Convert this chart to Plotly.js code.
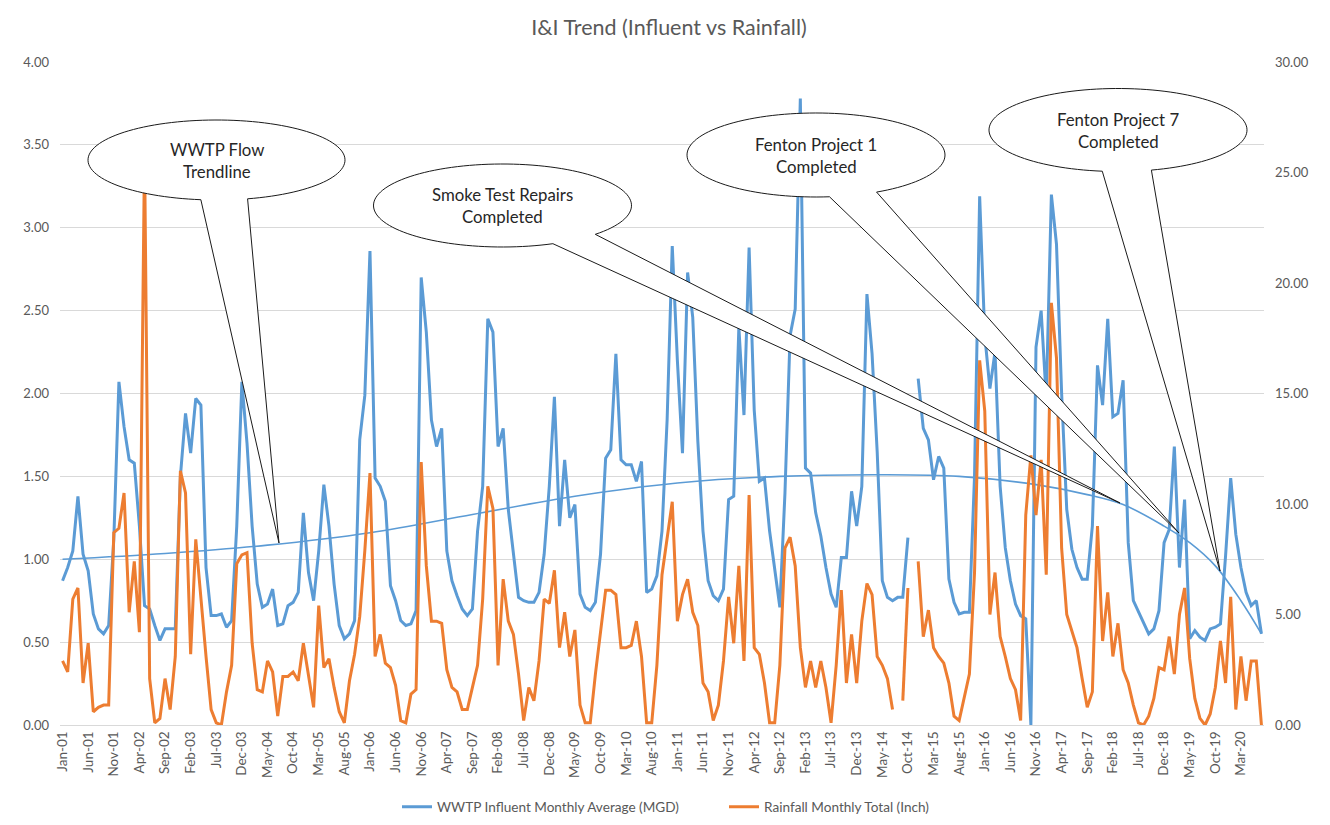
<!DOCTYPE html>
<html>
<head>
<meta charset="utf-8">
<script src="https://cdn.plot.ly/plotly-3.0.1.min.js"></script>
<style>
html,body{margin:0;padding:0;background:#fff;}
#chart{width:1330px;height:825px;}
</style>
</head>
<body>
<div id="chart"></div>
<script>
// ---------- DATA ----------
const monthNames = ["Jan","Feb","Mar","Apr","May","Jun","Jul","Aug","Sep","Oct","Nov","Dec"];
const firstYear = 1;      // 2001
const monthCount = 235;   // Jan-01 .. Jul-20
const months = [];
for (let i = 0; i < monthCount; i++) {
  const yy = firstYear + Math.floor(i / 12);
  months.push(monthNames[i % 12] + "-" + String(yy).padStart(2, "0"));
}

// WWTP influent monthly average (MGD), Jan-01 .. Jul-20
const influent = [
 0.87,0.95,1.05,1.38,1.03,0.93,0.67,0.58,0.55,0.60,1.12,2.07,
 1.80,1.60,1.58,1.20,0.72,0.70,0.60,0.51,0.58,0.58,0.58,1.50,
 1.88,1.64,1.97,1.93,0.95,0.66,0.66,0.67,0.59,0.63,1.20,2.07,
 1.70,1.20,0.85,0.71,0.73,0.82,0.60,0.61,0.72,0.74,0.80,1.28,
 0.92,0.75,1.05,1.45,1.20,0.85,0.60,0.52,0.55,0.63,1.72,1.99,
 2.86,1.49,1.44,1.35,0.84,0.75,0.63,0.60,0.61,0.69,2.70,2.37,
 1.84,1.68,1.79,1.05,0.87,0.78,0.70,0.66,0.70,1.17,1.44,2.45,
 2.37,1.68,1.79,1.30,1.03,0.77,0.75,0.74,0.74,0.80,1.03,1.44,
 1.98,1.20,1.60,1.25,1.33,0.79,0.71,0.69,0.74,1.03,1.61,1.66,
 2.24,1.60,1.57,1.57,1.47,1.59,0.80,0.82,0.90,1.17,1.84,2.89,
 2.20,1.64,2.73,2.46,1.71,1.17,0.87,0.78,0.75,0.82,1.36,1.38,
 2.40,1.87,2.88,1.90,1.47,1.49,1.17,0.93,0.71,1.40,2.35,2.51,
 3.78,1.55,1.52,1.28,1.14,0.95,0.79,0.71,1.01,1.01,1.41,1.20,
 1.44,2.60,2.24,1.65,0.87,0.77,0.75,0.77,0.77,1.13,null,2.09,
 1.79,1.72,1.48,1.62,1.55,0.88,0.74,0.67,0.68,0.68,1.50,3.19,
 2.35,2.03,2.25,1.44,1.07,0.87,0.73,0.66,0.64,0.00,2.28,2.50,
 1.97,3.20,2.90,2.00,1.30,1.06,0.95,0.88,0.88,1.20,2.17,1.93,
 2.45,1.86,1.88,2.08,1.10,0.75,0.68,0.62,0.55,0.58,0.69,1.10,
 1.18,1.68,0.95,1.36,0.52,0.57,0.53,0.51,0.58,0.59,0.61,1.02,
 1.49,1.15,0.95,0.80,0.72,0.75,0.55
];

// Rainfall monthly total (inch), Jan-01 .. Jul-20
const rainfall = [
 2.9,2.4,5.7,6.2,1.9,3.7,0.6,0.8,0.9,0.9,8.7,8.9,
 10.5,5.1,7.4,4.2,26.0,2.1,0.1,0.3,2.1,0.7,3.1,11.5,
 10.5,3.2,8.4,5.7,3.1,0.7,0.1,0.0,1.5,2.7,7.3,7.7,
 7.8,3.7,1.6,1.5,2.9,2.4,0.4,2.2,2.2,2.4,2.0,3.7,
 2.3,0.8,5.4,2.6,3.0,1.7,0.6,0.1,2.0,3.2,4.9,7.9,
 11.4,3.1,4.1,2.8,2.6,1.8,0.2,0.1,1.4,1.6,11.9,7.2,
 4.7,4.7,4.6,2.5,1.7,1.5,0.7,0.7,1.7,2.7,5.7,10.8,
 9.8,2.7,6.6,4.7,4.1,2.3,0.2,1.7,1.1,2.9,5.7,5.5,
 7.0,3.5,5.1,3.1,4.3,0.9,0.1,0.1,2.3,4.1,6.1,6.1,
 5.9,3.5,3.5,3.6,4.7,3.1,0.1,0.1,2.7,6.8,8.4,10.1,
 4.7,5.9,6.6,5.1,4.5,1.9,1.5,0.2,0.9,2.9,5.8,3.7,
 7.2,2.9,10.4,3.5,3.2,1.9,0.1,0.1,2.7,8.0,8.5,7.2,
 3.5,1.7,2.9,1.7,2.9,1.7,0.1,2.7,6.1,1.9,4.1,1.9,
 4.7,6.4,5.9,3.1,2.7,2.1,0.7,null,1.1,6.2,null,7.4,
 4.0,5.2,3.5,3.1,2.8,1.9,0.4,0.2,1.3,2.3,6.9,16.5,
 14.2,5.0,6.9,4.0,3.1,2.1,1.6,0.2,9.5,12.2,9.5,12.0,
 6.8,19.1,16.6,8.0,5.0,4.2,3.5,2.1,0.8,1.5,9.0,3.8,
 6.0,3.1,4.6,2.5,1.9,0.9,0.1,0.0,0.4,1.2,2.6,2.5,
 4.0,2.3,5.0,6.2,3.0,1.2,0.3,0.0,0.5,1.7,3.8,1.9,
 5.8,0.7,3.1,1.1,2.9,2.9,0.0
];

// WWTP flow trendline, read at selected months
const trendMonthIdx = [0,20,40,60,80,100,120,140,160,175,190,200,207,215,220,225,230,234];
const trendValues   = [1.00,1.035,1.085,1.16,1.27,1.38,1.46,1.50,1.51,1.50,1.45,1.39,1.33,1.20,1.10,0.96,0.75,0.55];

const tickLabels = months.filter((m, i) => i % 5 === 0);

const seriesNames = ["WWTP Influent Monthly Average (MGD)", "Rainfall Monthly Total (Inch)"];
const calloutLines = [
  ["WWTP Flow", "Trendline"],
  ["Smoke Test Repairs", "Completed"],
  ["Fenton Project 1", "Completed"],
  ["Fenton Project 7", "Completed"]
];

// ---------- LAYOUT GEOMETRY ----------
const W = 1330, H = 825;
const PL = 60, PR = 1264, PT = 62, PB = 725;
const px = x => (x - PL) / (PR - PL);
const py = y => (PB - y) / (PB - PT);

// callout geometry in pixels: ellipse centre, radii, wedge base angles (deg, y down), tip
const callouts = [
  {cx:216.5, cy:160,   rx:128.5, ry:40,   a1:97, a2:76, tx:279,  ty:543},
  {cx:502.5, cy:205.5, rx:129,   ry:41.5, a1:67, a2:44, tx:1120, ty:503},
  {cx:816,   cy:155,   rx:129,   ry:42,   a1:84, a2:62, tx:1179, ty:533},
  {cx:1118,  cy:130,   rx:129,   ry:41.5, a1:97, a2:75, tx:1220, ty:571}
];

function calloutPath(c) {
  const pts = [];
  const start = c.a1, end = c.a2 + 360;
  const steps = 120;
  for (let k = 0; k <= steps; k++) {
    const a = (start + (end - start) * k / steps) * Math.PI / 180;
    pts.push([c.cx + c.rx * Math.cos(a), c.cy + c.ry * Math.sin(a)]);
  }
  pts.push([c.tx, c.ty]);
  return "M" + pts.map(p => px(p[0]).toFixed(5) + "," + py(p[1]).toFixed(5)).join(" L") + " Z";
}

const FONT = "Lato, 'Open Sans', sans-serif";
const GREY = "#595959";

const shapes = callouts.map(c => ({
  type: "path", xref: "paper", yref: "paper", layer: "above",
  path: calloutPath(c),
  fillcolor: "#ffffff",
  line: {color: "#1a1a1a", width: 1}
}));

const annotations = [];
callouts.forEach((c, i) => {
  calloutLines[i].forEach((t, k) => {
    annotations.push({
      xref: "paper", yref: "paper", x: px(c.cx), y: py(c.cy - 11 + k * 22.5),
      text: t, showarrow: false,
      font: {family: FONT, size: 16.8, color: "#262626"},
      xanchor: "center", yanchor: "middle"
    });
  });
});

const traces = [
  {
    x: months, y: influent, name: seriesNames[0], type: "scatter", mode: "lines",
    line: {color: "#5B9BD5", width: 3}, connectgaps: false, yaxis: "y"
  },
  {
    x: trendMonthIdx.map(i => months[i]), y: trendValues, name: "Trend", type: "scatter",
    mode: "lines", line: {color: "#5B9BD5", width: 1.6, shape: "spline"},
    showlegend: false, yaxis: "y"
  },
  {
    x: months, y: rainfall, name: seriesNames[1], type: "scatter", mode: "lines",
    line: {color: "#ED7D31", width: 3}, connectgaps: false, yaxis: "y2"
  }
];

const layout = {
  width: W, height: H,
  margin: {l: PL, r: W - PR, t: PT, b: H - PB, pad: 0, autoexpand: false},
  paper_bgcolor: "#ffffff", plot_bgcolor: "#ffffff",
  font: {family: FONT, color: GREY, size: 12},
  title: {
    text: "I&amp;I Trend (Influent vs Rainfall)",
    x: 0.503, xref: "container", xanchor: "center",
    y: 1 - 27 / H, yref: "container", yanchor: "middle",
    font: {family: FONT, size: 21.5, color: GREY}
  },
  showlegend: true,
  legend: {
    orientation: "h", x: px(397), xanchor: "left", y: py(807), yanchor: "middle",
    font: {family: FONT, size: 13.6, color: GREY}, bgcolor: "rgba(0,0,0,0)",
    itemwidth: 30, entrywidth: 282, entrywidthmode: "pixels"
  },
  xaxis: {
    type: "category", categoryorder: "array", categoryarray: months,
    range: [-0.5, monthCount - 0.5], automargin: false,
    tickmode: "array", tickvals: tickLabels, ticktext: tickLabels,
    tickangle: -90, tickfont: {family: FONT, size: 13.5, color: GREY},
    showgrid: false, zeroline: false, showline: true, linecolor: "#d9d9d9", linewidth: 1,
    ticks: "", fixedrange: true
  },
  yaxis: {
    range: [0, 4], dtick: 0.5, tick0: 0, tickformat: ".2f", automargin: false,
    showgrid: true, gridcolor: "#d9d9d9", gridwidth: 1, zeroline: false, showline: false,
    ticks: "", ticklabelstandoff: 10,
    tickfont: {family: FONT, size: 13, color: GREY}
  },
  yaxis2: {
    range: [0, 30], dtick: 5, tick0: 0, tickformat: ".2f", automargin: false,
    overlaying: "y", side: "right", showgrid: false, zeroline: false, showline: false,
    ticks: "", ticklabelstandoff: 10,
    tickfont: {family: FONT, size: 13, color: GREY}
  },
  shapes: shapes,
  annotations: annotations
};

Plotly.newPlot("chart", traces, layout, {displayModeBar: false, staticPlot: true});
</script>
</body>
</html>
